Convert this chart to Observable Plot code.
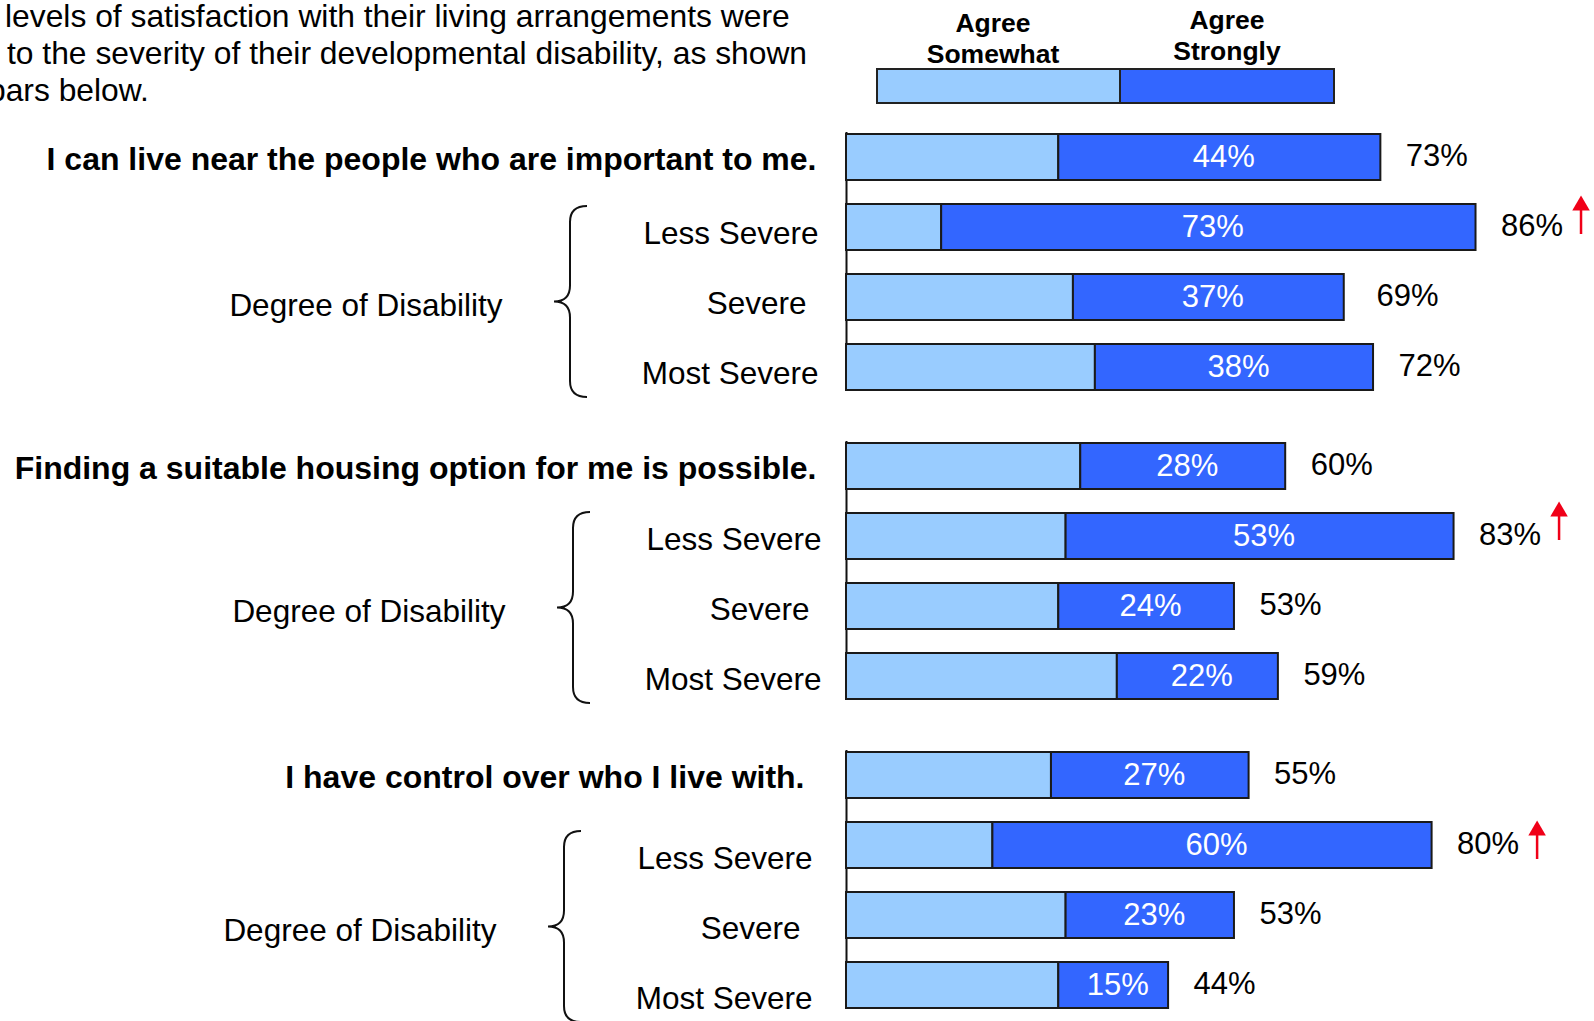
<!DOCTYPE html>
<html><head><meta charset="utf-8">
<script src="https://cdn.jsdelivr.net/npm/d3@7"></script>
<script src="https://cdn.jsdelivr.net/npm/@observablehq/plot@0.6"></script>
<style>
html,body{margin:0;padding:0;background:#fff;overflow:hidden;}
body{width:1594px;height:1021px;font-family:"Liberation Sans",Arial,Helvetica,sans-serif;color:#000;}
#header{position:relative;height:120px;width:1594px;overflow:hidden;}
.intro{position:absolute;left:0;font-size:31.8px;line-height:37px;white-space:nowrap;}
.lg-label{position:absolute;font-weight:bold;font-size:26.5px;line-height:31px;text-align:center;width:260px;}
.lg-box{position:absolute;box-sizing:border-box;border:2px solid #222;}
#chart svg{display:block;}
</style></head><body>
<div id="header"></div>
<div id="chart"></div>
<script>
// ---- data ----
const introLines = [
  "levels of satisfaction with their living arrangements were",
  "to the severity of their developmental disability, as shown",
  "bars below."
];
const questions = [
  "I can live near the people who are important to me.",
  "Finding a suitable housing option for me is possible.",
  "I have control over who I live with."
];
const severityRows = ["Overall", "Less Severe", "Severe", "Most Severe"];
const levels = ["Agree Somewhat", "Agree Strongly"];
const legendLines = [["Agree", "Somewhat"], ["Agree", "Strongly"]];
const agreeSomewhat = [[29, 13, 31, 34], [32, 30, 29, 37], [28, 20, 30, 29]];
const agreeStrongly = [[44, 73, 37, 38], [28, 53, 24, 22], [27, 60, 23, 15]];
const agreeTotal    = [[73, 86, 69, 72], [60, 83, 53, 59], [55, 80, 53, 44]];
const increased     = [[false, true, false, false], [false, true, false, false], [false, true, false, false]];
const groupTitle = "Degree of Disability";

// ---- styles / layout ----
const levelColors = ["#99CCFF", "#3366FF"];
const edge = "#1a1a1a";
const red = "#f00018";
const font = "'Liberation Sans', Arial, Helvetica, sans-serif";
const nudgeX = [0, 3, -6];     // per-block horizontal nudge of left-side annotations (px)
const nudgeY = [0, -3, 7];     // per-block vertical nudge of annotations (px)
const questionDx = [-30, -30, -42];

// ---- header (intro text + legend) ----
const header = d3.select("#header");
const introLeft = [5, 7, -12];
const introTop = [-2, 35, 72];
introLines.forEach((t, i) => {
  header.append("div").attr("class", "intro")
    .style("left", introLeft[i] + "px").style("top", introTop[i] + "px").text(t);
});
const legendBoxes = [[876, 1119], [1119, 1333]];
const legendCenters = [993, 1227];
const legendTops = [8, 5];
levels.forEach((lv, i) => {
  header.append("div").attr("class", "lg-box")
    .style("left", legendBoxes[i][0] + "px").style("top", "68px")
    .style("width", (legendBoxes[i][1] - legendBoxes[i][0] + 2) + "px").style("height", "36px")
    .style("background", levelColors[i]);
  header.append("div").attr("class", "lg-label")
    .style("left", (legendCenters[i] - 130) + "px").style("top", legendTops[i] + "px")
    .html(legendLines[i].join("<br>"));
});

// ---- tables ----
const segments = [];
const totals = [];
const rowLabels = [];
questions.forEach((q, i) => severityRows.forEach((r, j) => {
  segments.push({question: q, row: r, level: levels[0], value: agreeSomewhat[i][j]});
  segments.push({question: q, row: r, level: levels[1], value: agreeStrongly[i][j]});
  totals.push({question: q, row: r, total: agreeTotal[i][j], up: increased[i][j]});
  rowLabels.push({question: q, row: r, label: r === "Overall" ? q : r});
}));
const groupLabels = questions.map(q => ({question: q, row: "Severe", label: groupTitle}));

// brace drawn from the y/x scales; called once per facet, in facet order
let braceCall = 0;
function brace(index, scales) {
  const g = braceCall++ % questions.length;
  const y = scales.y, x = scales.x;
  const bw = y.bandwidth();
  const top = y("Less Severe") + bw / 2 - 21 + nudgeY[g];
  const bot = y("Most Severe") + bw / 2 + 30 + nudgeY[g];
  const mid = (top + bot) / 2;
  const x0 = x(0) + nudgeX[g];
  const xt = x0 - 292, xs = x0 - 276, xr = x0 - 259, r = 16;
  const d = `M${xr},${top} Q${xs},${top} ${xs},${top + r} L${xs},${mid - r} Q${xs},${mid} ${xt},${mid} ` +
            `Q${xs},${mid} ${xs},${mid + r} L${xs},${bot - r} Q${xs},${bot} ${xr},${bot}`;
  const p = document.createElementNS("http://www.w3.org/2000/svg", "path");
  p.setAttribute("d", d);
  p.setAttribute("fill", "none");
  p.setAttribute("stroke", "#111");
  p.setAttribute("stroke-width", "2");
  return p;
}

const labelMarks = questions.flatMap((q, i) => {
  const rl = rowLabels.filter(d => d.question === q);
  const up = totals.filter(d => d.question === q && d.up);
  const common = {y: "row", fy: "question", text: "label", frameAnchor: "left", textAnchor: "end", fontSize: 31.5, fill: "#000"};
  return [
    Plot.text(rl.filter(d => d.row === "Overall"), {...common, dx: questionDx[i], dy: 2, fontWeight: "bold", fontSize: 32}),
    Plot.text(rl.filter(d => d.row === "Less Severe" || d.row === "Most Severe"), {...common, dx: -28 + nudgeX[i], dy: 6 + nudgeY[i]}),
    Plot.text(rl.filter(d => d.row === "Severe"), {...common, dx: -40 + nudgeX[i], dy: 6 + nudgeY[i]}),
    Plot.text(groupLabels.filter(d => d.question === q), {...common, dx: -344 + nudgeX[i], dy: 8 + nudgeY[i]}),
    Plot.tickX(up, {x: "total", y: "row", fy: "question", dx: 105, dy: nudgeY[i], stroke: red, strokeWidth: 2.5, insetTop: 3, insetBottom: 16}),
    Plot.dot(up, {x: "total", y: "row", fy: "question", dx: 105, dy: -22 + nudgeY[i], symbol: "triangle", r: 6.5, fill: red, stroke: "none"})
  ];
});

const chart = Plot.plot({
  width: 1594,
  height: 901,
  marginLeft: 846,
  marginRight: 16,
  marginTop: 0,
  marginBottom: 0,
  style: {fontFamily: font, fontSize: "31px", background: "#fff", color: "#000"},
  x: {domain: [0, 100], axis: null},
  y: {domain: severityRows, axis: null, paddingInner: 0.35, paddingOuter: 0.175},
  fy: {domain: questions, axis: null, paddingInner: 0.0856, paddingOuter: 0},
  color: {domain: levels, range: levelColors},
  marks: [
    Plot.ruleX([0], {insetTop: 12, insetBottom: 12, stroke: "#111", strokeWidth: 2}),
    Plot.barX(segments, Plot.stackX({x: "value", y: "row", fy: "question", z: "level", fill: "level", stroke: edge, strokeWidth: 2})),
    Plot.text(segments, Plot.stackX({x: "value", y: "row", fy: "question", z: "level",
      text: d => d.level === levels[1] ? d.value + "%" : "", fill: "white", fontSize: 31, dx: 4, dy: 0})),
    Plot.text(totals, {x: "total", y: "row", fy: "question", text: d => d.total + "%", textAnchor: "start", dx: 25, dy: -1, fill: "#000", fontSize: 31}),
    ...labelMarks,
    brace
  ]
});
document.getElementById("chart").appendChild(chart);
</script>
</body></html>
